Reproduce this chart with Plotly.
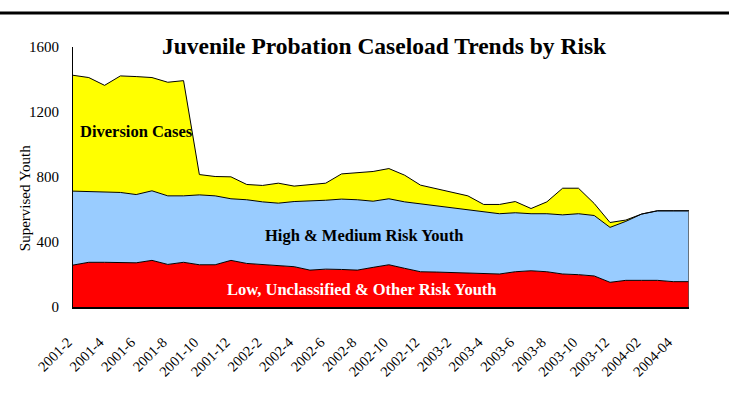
import plotly.graph_objects as go

months = ["2001-2", "2001-3", "2001-4", "2001-5", "2001-6", "2001-7", "2001-8", "2001-9",
          "2001-10", "2001-11", "2001-12", "2002-1", "2002-2", "2002-3", "2002-4", "2002-5",
          "2002-6", "2002-7", "2002-8", "2002-9", "2002-10", "2002-11", "2002-12", "2003-1",
          "2003-2", "2003-3", "2003-4", "2003-5", "2003-6", "2003-7", "2003-8", "2003-9",
          "2003-10", "2003-11", "2003-12", "2004-01", "2004-02", "2004-03", "2004-04", "2004-05"]

tick_labels = ["2001-2", "2001-4", "2001-6", "2001-8", "2001-10", "2001-12", "2002-2", "2002-4",
               "2002-6", "2002-8", "2002-10", "2002-12", "2003-2", "2003-4", "2003-6", "2003-8",
               "2003-10", "2003-12", "2004-02", "2004-04"]

low_risk = [258, 275, 275, 275, 272, 287, 262, 275, 260, 260, 287, 268, 260, 254, 248, 227,
            233, 231, 227, 244, 260, 238, 217, 215, 211, 211, 207, 203, 217, 223, 217, 203,
            199, 191, 152, 164, 164, 164, 156, 156]

high_medium = [455, 434, 434, 430, 420, 428, 422, 409, 430, 424, 379, 392, 387, 385, 401, 424,
               424, 433, 433, 407, 406, 409, 418, 408, 400, 387, 377, 371, 363, 351, 357, 364,
               375, 372, 338, 363, 408, 428, 436, 436]

diversion = [713, 703, 655, 717, 726, 697, 699, 709, 125, 119, 135, 94, 101, 123, 95, 103,
             105, 155, 166, 183, 186, 164, 115, 104, 94, 86, 47, 57, 69, 32, 73, 164,
             157, 74, 30, 8, 0, 0, 0, 0]

series_names = ["Low, Unclassified & Other Risk Youth", "High & Medium Risk Youth", "Diversion Cases"]
colors = ["#FF0000", "#99CCFF", "#FFFF00"]

FONT = "Liberation Serif, Times New Roman, serif"

fig = go.Figure()
for name, vals, col in zip(series_names, [low_risk, high_medium, diversion], colors):
    fig.add_trace(go.Scatter(
        x=months, y=vals, name=name, mode="lines", stackgroup="one",
        line=dict(color="black", width=1), fillcolor=col, showlegend=False,
        hoverinfo="x+y+name"))

# right-hand border of the stacked area
total_last = low_risk[-1] + high_medium[-1] + diversion[-1]
fig.add_trace(go.Scatter(x=[months[-1], months[-1]], y=[0, total_last], mode="lines",
                         line=dict(color="#555555", width=1.5), showlegend=False,
                         hoverinfo="skip"))

label_style = dict(family=FONT, size=16.5)
fig.add_annotation(x=4.05, y=1077, text="<b>Diversion Cases</b>", showarrow=False,
                   font=dict(color="black", **label_style))
fig.add_annotation(x=18.4, y=437, text="<b>High & Medium Risk Youth</b>", showarrow=False,
                   font=dict(color="black", **label_style))
fig.add_annotation(x=18.3, y=105, text="<b>Low, Unclassified & Other Risk Youth</b>",
                   showarrow=False, font=dict(color="white", **label_style))

fig.add_annotation(xref="paper", yref="paper", x=-0.094, y=0.419, text="Supervised Youth",
                   textangle=-90, showarrow=False, font=dict(family=FONT, size=15, color="black"))

fig.add_shape(type="line", xref="paper", yref="paper", x0=-0.13, x1=1.08, y0=1.131, y1=1.131,
              line=dict(color="black", width=3))

fig.update_layout(
    width=729, height=420,
    margin=dict(l=73, r=40, t=47, b=113),
    paper_bgcolor="white", plot_bgcolor="white",
    title=dict(text="<b>Juvenile Probation Caseload Trends by Risk</b>",
               x=0.505, xref="paper", y=0.89, yref="container", yanchor="middle",
               font=dict(family=FONT, size=23.5, color="black")),
    font=dict(family=FONT, color="black"),
    xaxis=dict(type="category", categoryorder="array", categoryarray=months,
               range=[0, len(months) - 1], tickmode="array", tickvals=tick_labels,
               ticktext=[t + "\u00a0\u00a0" for t in tick_labels], tickangle=-45,
               tickfont=dict(family=FONT, size=14.5),
               ticks="outside", ticklen=14, tickcolor="rgba(0,0,0,0)",
               showline=True, linecolor="black", linewidth=2, showgrid=False, zeroline=False),
    yaxis=dict(range=[0, 1600], tickvals=[0, 400, 800, 1200, 1600],
               tickfont=dict(family=FONT, size=15), ticks="outside", ticklen=10,
               tickcolor="rgba(0,0,0,0)", showline=True, linecolor="black", linewidth=1,
               showgrid=False, zeroline=False),
)

fig.write_html("out.html", config={"displayModeBar": False},
               post_script="document.body.style.margin='0px';")
